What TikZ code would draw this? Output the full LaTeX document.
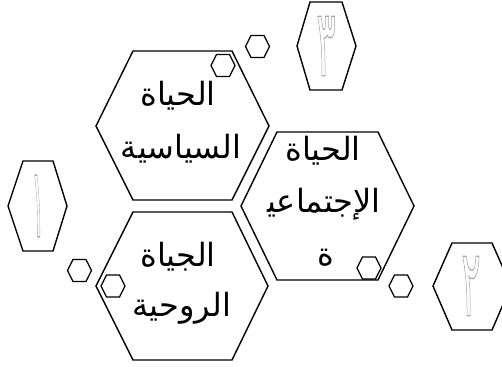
\documentclass[tikz,border=0pt]{standalone}
\usepackage{fontspec}
\TeXXeTstate=1
\newfontfamily\arabicfont[Script=Arabic]{DejaVu Sans}
\newcommand\outlinetext[1]{\special{pdf:literal direct 1 Tr 0.5 w}#1\special{pdf:literal direct 0 Tr}}
\tikzset{
  bighex/.style={draw=black, line width=1.4pt, line join=miter},
  smallhex/.style={draw=black, line width=1.2pt},
  artext/.style={font=\arabicfont\fontsize{32}{32}\selectfont, inner sep=0pt, anchor=base},
  digit/.style={font=\arabicfont\fontsize{36}{36}\selectfont, text=gray!70, inner sep=0pt}
}
\begin{document}
\begin{tikzpicture}[x=1pt,y=-1pt]
\useasboundingbox (0,0) rectangle (502,366);
\clip (0,0) rectangle (502,366);
% big hexagons
\draw[bighex] (133,51) -- (232,51) -- (269,126) -- (232,200) -- (133,200) -- (96,126) -- cycle;
\draw[bighex] (277,132) -- (378,132) -- (414,206) -- (378,280) -- (277,280) -- (241,206) -- cycle;
\draw[bighex] (133,212) -- (232,212) -- (268,286) -- (232,360) -- (133,360) -- (96,286) -- cycle;
% number hexagons
\draw[bighex] (23,161) -- (53,161) -- (67,206) -- (53,251) -- (23,251) -- (8,206) -- cycle;
\draw[bighex] (310,2) -- (342,2) -- (356,46) -- (342,90) -- (310,90) -- (297,46) -- cycle;
\draw[bighex] (452,243) -- (492,243) -- (511,286) -- (492,330) -- (452,330) -- (433,286) -- cycle;
% small hexagons
\foreach \cx/\cy in {257.5/46.5, 223/65.5, 79.5/270.5, 113/286, 369/268, 401/286}{
  \draw[smallhex] (\cx-6.5,\cy-11) -- (\cx+6.5,\cy-11) -- (\cx+12,\cy) -- (\cx+6.5,\cy+11) -- (\cx-6.5,\cy+11) -- (\cx-12,\cy) -- cycle;
}
% texts
\node[artext] (s1) at (178,106) {\beginR الحياة\endR};
\node[artext] (s2) at (181,158) {\beginR السياسية\endR};
\node[artext] (j1) at (323,160) {\beginR الحياة\endR};
\node[artext] (j2) at (324,212) {\beginR الإجتماعي^^^^200d\endR};
\node[artext] (j3) at (326,265) {\beginR ة\endR};
\node[artext] (r1) at (178,266) {\beginR الجياة\endR};
\node[artext] (r2) at (182,316) {\beginR الروحية\endR};
% digits
\node[digit, yscale=2.7, xscale=0.7] (d1) at (38,206) {\outlinetext{١}};
\node[digit, yscale=2.6, xscale=1] (d3) at (326,46) {\outlinetext{٣}};
\node[digit, yscale=2.6, xscale=1] (d2) at (471,286) {\outlinetext{٢}};
\end{tikzpicture}
\end{document}
